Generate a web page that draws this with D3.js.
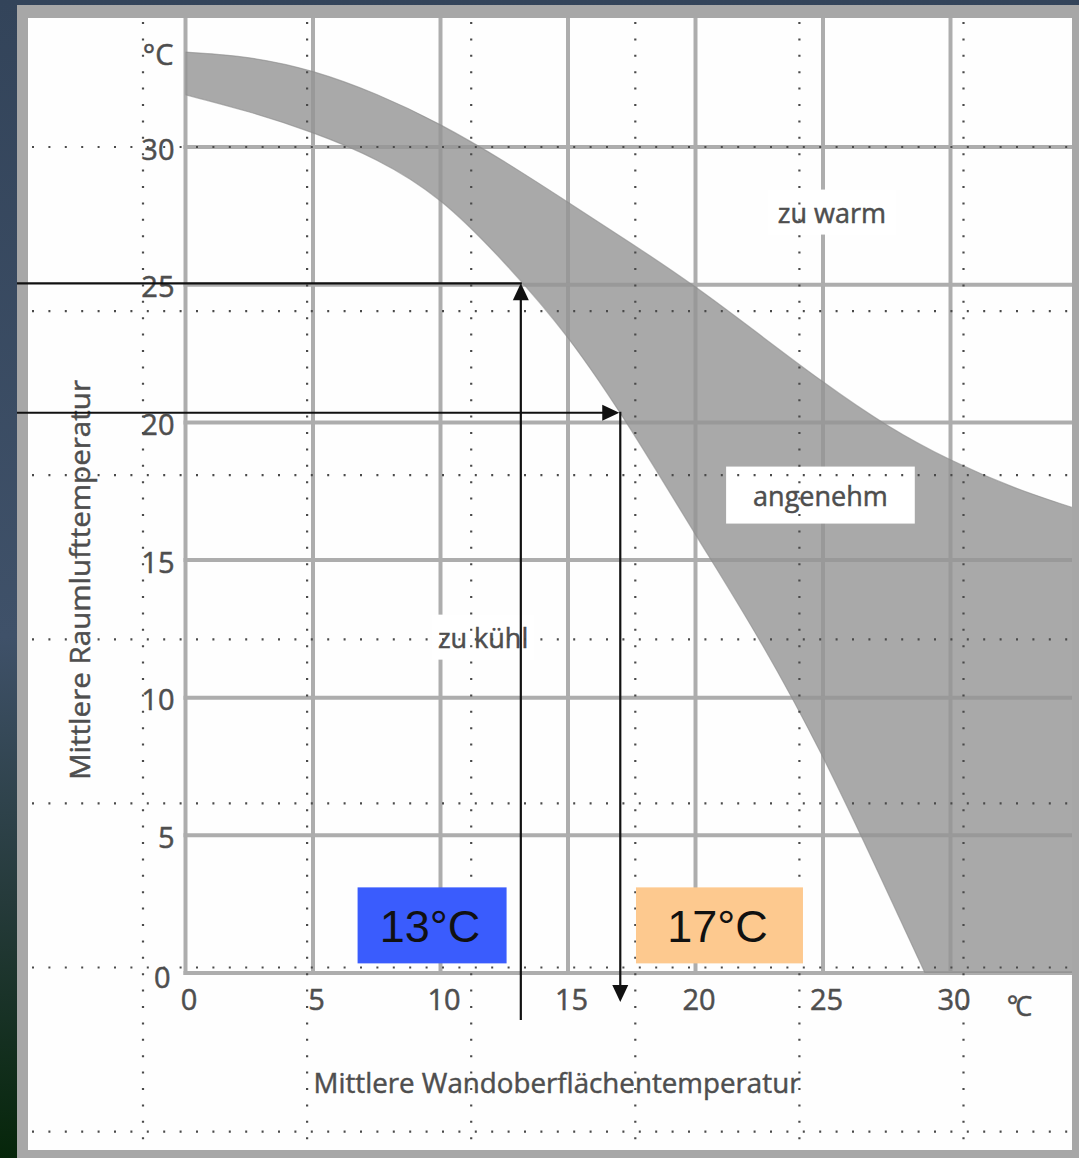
<!DOCTYPE html>
<html><head><meta charset="utf-8">
<script src="https://cdn.jsdelivr.net/npm/d3@7"></script>
<style>
html,body{margin:0;padding:0;background:#34455b;}
svg{display:block;}
</style></head>
<body>
<svg id="chart" width="1079" height="1158"></svg>
<script>
// ---------- data ----------
const xTicks = [0, 5, 10, 15, 20, 25, 30];
const yTicks = [0, 5, 10, 15, 20, 25, 30];
const xTickLabels = ["0", "5", "10", "15", "20", "25", "30"];
const yTickLabels = ["0", "5", "10", "15", "20", "25", "30"];
const unitLabel = "°C";
// comfort band: upper boundary (wall temp -> air temp)
const upperX = [0, 2.5, 5, 7.5, 10, 12.5, 15, 17.5, 20, 22.5, 25, 27.5, 30, 32.5, 34.8];
const upperY = [33.45, 33.3, 32.8, 31.95, 30.85, 29.5, 28.0, 26.5, 24.95, 23.2, 21.45, 19.85, 18.6, 17.6, 16.9];
// comfort band: lower boundary
const lowerX = [0, 2.5, 5, 7.5, 10, 12.5, 15, 17.5, 20, 22.5, 25, 27.5, 29.0];
const lowerY = [31.9, 31.3, 30.55, 29.6, 28.2, 25.85, 23.2, 19.75, 15.9, 12.2, 7.95, 3.0, 0];
const xMaxShown = 34.8;
// reading examples
const readX = [13.15, 17.05];
const readY = [25.05, 20.35];
const readLabels = ["13°C", "17°C"];
const readColors = ["#3a5cfd", "#fdc98f"];
const readBoxX = [9.67, 20.94];
const readBoxY = 1.73;
// region labels
const regionNames = ["zu warm", "zu kühl", "angenehm"];
const regionX = [25.35, 11.67, 24.9];
const regionY = [27.64, 12.2, 17.36];
const xTitle = "Mittlere Wandoberflächentemperatur";
const yTitle = "Mittlere Raumlufttemperatur";

// ---------- layout ----------
const W = 1079, H = 1158;
const panel = {x0: 28, y0: 18, x1: 1072, y1: 1150};
const svg = d3.select("#chart");
const defs = svg.append("defs");
const lg = defs.append("linearGradient").attr("id", "bg").attr("x1", 0).attr("y1", 0).attr("x2", 0).attr("y2", 1);
lg.append("stop").attr("offset", "0%").attr("stop-color", "#33445a");
lg.append("stop").attr("offset", "55%").attr("stop-color", "#3f5169");
lg.append("stop").attr("offset", "78%").attr("stop-color", "#253a3a");
lg.append("stop").attr("offset", "100%").attr("stop-color", "#06260a");
svg.append("rect").attr("width", W).attr("height", H).attr("fill", "url(#bg)");
svg.append("rect").attr("x", 17).attr("y", 5).attr("width", W - 17).attr("height", H - 5).attr("fill", "#a7a7a7");
svg.append("rect").attr("x", panel.x0).attr("y", panel.y0).attr("width", panel.x1 - panel.x0).attr("height", panel.y1 - panel.y0).attr("fill", "#fefefe");

const x = d3.scaleLinear().domain([0, 30]).range([185.5, 950.5]);
const y = d3.scaleLinear().domain([0, 30]).range([973, 147.1]);
const plotTop = panel.y0, plotRight = panel.x1;

defs.append("clipPath").attr("id", "plotclip").append("rect")
  .attr("x", x(0)).attr("y", plotTop).attr("width", plotRight - x(0)).attr("height", y(0) - plotTop);

// grid (solid gray)
const grid = svg.append("g").attr("stroke", "#adadad").attr("stroke-width", 4);
grid.selectAll(".vx").data(xTicks).join("line")
  .attr("x1", d => x(d)).attr("x2", d => x(d)).attr("y1", plotTop).attr("y2", y(0) + 2);
grid.selectAll(".hy").data(yTicks).join("line")
  .attr("x1", x(0) - 2).attr("x2", plotRight).attr("y1", d => y(d)).attr("y2", d => y(d));

// band
const upperPts = upperX.map((v, i) => [v, upperY[i]]);
const lowerPts = lowerX.map((v, i) => [v, lowerY[i]]).reverse();
const lineGen = d3.line().x(d => x(d[0])).y(d => y(d[1])).curve(d3.curveBasis);
const pUpper = lineGen(upperPts);
const pLower = lineGen(lowerPts).replace(/^M/, "L");
const bandPath = pUpper + "L" + x(xMaxShown) + "," + y(0) + pLower + "Z";
svg.append("path").attr("d", bandPath).attr("clip-path", "url(#plotclip)")
  .attr("fill", "#949494").attr("fill-opacity", 0.8)
  .attr("stroke", "#8c8c8c").attr("stroke-width", 1.2).attr("stroke-opacity", 0.6);

// region labels with white backing
const fontMain = "'Open Sans', 'DejaVu Sans', sans-serif";
const txtCol = "#4e4e4e";
const regG = svg.append("g");
const regionPad = [[10, 6], [6, 6], [27, 12]];
regionNames.forEach((name, i) => {
  const t = regG.append("text").attr("x", x(regionX[i])).attr("y", y(regionY[i]))
    .attr("text-anchor", "middle").attr("dominant-baseline", "central")
    .attr("font-family", fontMain).attr("font-size", 27).attr("fill", txtCol)
    .attr("stroke", txtCol).attr("stroke-width", 0.5)
    .text(name);
  const bb = t.node().getBBox();
  regG.insert("rect", "text").attr("x", bb.x - regionPad[i][0]).attr("y", bb.y - regionPad[i][1] + 2)
    .attr("width", bb.width + 2 * regionPad[i][0]).attr("height", bb.height + 2 * regionPad[i][1] - 4)
    .attr("fill", "#ffffff");
});

// axes
const yAxis = d3.axisLeft(y).tickValues(yTicks).tickSize(0).tickPadding(11)
  .tickFormat((d, i) => yTickLabels[i]);
const gy = svg.append("g").attr("transform", `translate(${x(0)},0)`).call(yAxis);
gy.select(".domain").remove();
gy.selectAll("text").attr("font-family", fontMain).attr("font-size", 29).attr("fill", txtCol)
  .attr("stroke", txtCol).attr("stroke-width", 0.5).attr("dy", "0.42em");
gy.selectAll(".tick").filter(d => d === 0).select("text").attr("dy", "0.5em").attr("dx", -4);

const xAxis = d3.axisBottom(x).tickValues(xTicks).tickSize(0).tickPadding(16)
  .tickFormat((d, i) => xTickLabels[i]);
const gx = svg.append("g").attr("transform", `translate(3,${y(0)})`).call(xAxis);
gx.select(".domain").remove();
gx.selectAll("text").attr("font-family", fontMain).attr("font-size", 29).attr("fill", txtCol)
  .attr("stroke", txtCol).attr("stroke-width", 0.5);

// unit labels
svg.append("text").attr("x", x(0) - 12).attr("y", y(33.4)).attr("text-anchor", "end").attr("dominant-baseline", "central")
  .attr("font-family", fontMain).attr("font-size", 29).attr("fill", txtCol)
  .attr("stroke", txtCol).attr("stroke-width", 0.5).text(unitLabel);
svg.append("text").attr("x", x(32.65)).attr("y", y(0) + 32).attr("text-anchor", "middle").attr("dominant-baseline", "central")
  .attr("font-family", fontMain).attr("font-size", 27).attr("fill", txtCol)
  .attr("stroke", txtCol).attr("stroke-width", 0.5).attr("letter-spacing", -3).text(unitLabel);

// axis titles
svg.append("text").attr("x", 557).attr("y", 1093).attr("text-anchor", "middle")
  .attr("font-family", fontMain).attr("font-size", 27).attr("fill", txtCol)
  .attr("stroke", txtCol).attr("stroke-width", 0.45)
  .attr("textLength", 487).attr("lengthAdjust", "spacingAndGlyphs").text(xTitle);
svg.append("text").attr("transform", "translate(90,580) rotate(-90)").attr("text-anchor", "middle")
  .attr("font-family", fontMain).attr("font-size", 27).attr("fill", txtCol)
  .attr("stroke", txtCol).attr("stroke-width", 0.45)
  .attr("textLength", 400).attr("lengthAdjust", "spacingAndGlyphs").text(yTitle);

// dotted guide grid (slide grid)
const dotStep = 164.1;
const dotCols = d3.range(6).map(i => 143 + i * dotStep);
const dotRows = d3.range(7).map(i => 147 + i * dotStep);
const dots = svg.append("g").attr("stroke", "#4a4a4a").attr("stroke-width", 2.2);
dots.selectAll(".dc").data(dotCols).join("line")
  .attr("x1", d => d).attr("x2", d => d).attr("y1", panel.y0 + 4).attr("y2", panel.y1)
  .attr("stroke-dasharray", "2 14.4");
dots.selectAll(".dr").data(dotRows).join("line")
  .attr("y1", d => d).attr("y2", d => d).attr("x1", panel.x0 + 4).attr("x2", panel.x1)
  .attr("stroke-dasharray", "2 14.4");

// reading arrows
const arrows = svg.append("g").attr("stroke", "#111").attr("stroke-width", 2.2).attr("fill", "none");
const tri = (cx, cy, dir, L = 17, Wd = 8) => {
  if (dir === "up") return `M${cx},${cy}L${cx - Wd},${cy + L}L${cx + Wd},${cy + L}Z`;
  if (dir === "down") return `M${cx},${cy}L${cx - Wd},${cy - L}L${cx + Wd},${cy - L}Z`;
  return `M${cx},${cy}L${cx - L},${cy - Wd}L${cx - L},${cy + Wd}Z`;
};
// example 1: from wall temp up to band, then left to air temp
arrows.append("line").attr("x1", 17).attr("x2", x(readX[0]) + 1).attr("y1", y(readY[0])).attr("y2", y(readY[0]));
arrows.append("line").attr("x1", x(readX[0])).attr("x2", x(readX[0])).attr("y1", y(readY[0]) + 10).attr("y2", y(0) + 47);
svg.append("path").attr("d", tri(x(readX[0]), y(readY[0]), "up")).attr("fill", "#111");
// example 2: from air temp right to band, then down to wall temp
arrows.append("line").attr("x1", 17).attr("x2", x(readX[1]) - 10).attr("y1", y(readY[1])).attr("y2", y(readY[1]));
arrows.append("line").attr("x1", x(readX[1])).attr("x2", x(readX[1])).attr("y1", y(readY[1]) - 1).attr("y2", y(0) + 20);
svg.append("path").attr("d", tri(x(readX[1]) - 1, y(readY[1]), "right")).attr("fill", "#111");
svg.append("path").attr("d", tri(x(readX[1]), y(0) + 29, "down")).attr("fill", "#111");

// value boxes
const boxW = [149, 167];
readLabels.forEach((lab, i) => {
  const cx = x(readBoxX[i]), cy = y(readBoxY);
  svg.append("rect").attr("x", cx - boxW[i] / 2).attr("y", cy - 38).attr("width", boxW[i]).attr("height", 76)
    .attr("fill", readColors[i]);
  svg.append("text").attr("x", cx - 2).attr("y", cy + 17).attr("text-anchor", "middle")
    .attr("font-family", "'Liberation Sans', Arial, sans-serif").attr("font-size", 45).attr("fill", "#111")
    .text(lab);
});
</script>
</body></html>
